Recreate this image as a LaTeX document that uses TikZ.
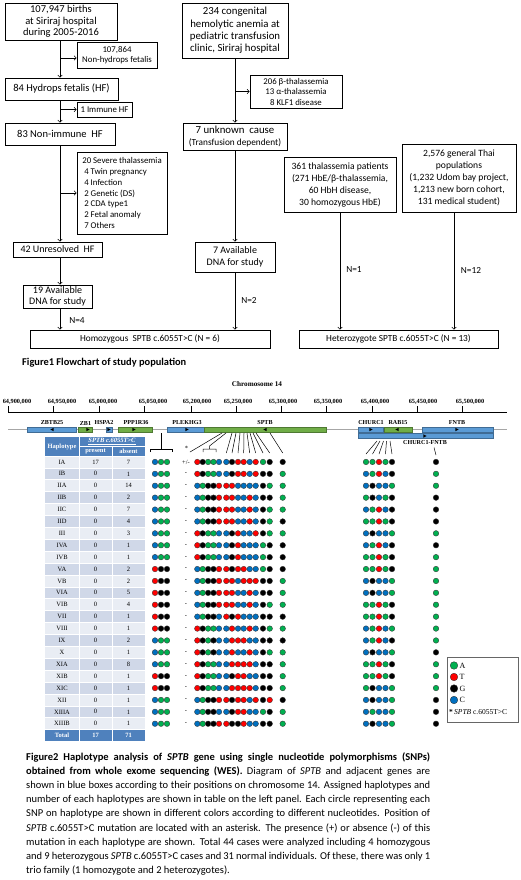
\documentclass[tikz,border=0pt]{standalone}
\usepackage{fontspec}
\setmainfont{Carlito}
\newfontfamily\tms{Liberation Serif}
\usetikzlibrary{arrows.meta,positioning}

\definecolor{snpA}{RGB}{0,176,80}
\definecolor{snpT}{RGB}{255,0,0}
\definecolor{snpG}{RGB}{0,0,0}
\definecolor{snpC}{RGB}{0,112,192}
\definecolor{geneblue}{RGB}{91,155,213}
\definecolor{genegreen}{RGB}{112,173,71}
\definecolor{tabhead}{RGB}{79,129,189}
\definecolor{banddark}{RGB}{208,216,232}
\definecolor{bandlight}{RGB}{233,237,244}

\newcommand\plusminus{+/-}
\newcommand\geneL[2]{\fill (#1-1.6,#2) -- (#1+1.6,#2-1.7) -- (#1+1.6,#2+1.7) -- cycle;}
\newcommand\geneR[2]{\fill (#1+1.6,#2) -- (#1-1.6,#2-1.7) -- (#1-1.6,#2+1.7) -- cycle;}
% x position of every SNP circle in a row
\def\snpx{{155,161,167,197.3,202.7,208.1,213.5,219,226.3,232,238,243.7,249.7,255.7,263,269.7,282.7,366,372.5,379,385.5,392,436}}

\tikzset{
  box/.style={draw, line width=0.6pt, align=center, inner sep=1pt, font=\fontsize{10.5}{11.5}\selectfont},
  smallbox/.style={box, font=\fontsize{8.8}{10}\selectfont},
  arr/.style={-{Straight Barb[length=2.2pt,width=4.5pt]}, line width=0.6pt},
  nlabel/.style={font=\fontsize{9.3}{10}\selectfont, inner sep=0pt},
  snp/.style={circle, draw=black!80, line width=0.35pt, inner sep=0pt, minimum size=5.6pt, fill=snp#1},
  genebox/.style={draw=#1!70!black, fill=#1, line width=0.3pt},
  glabel/.style={font=\tms\bfseries\fontsize{6.1}{7}\selectfont, inner sep=0pt},
  tcell/.style={font=\tms\fontsize{6.5}{7}\selectfont, inner sep=0pt},
  thead/.style={font=\tms\bfseries\fontsize{6.5}{7}\selectfont, text=white, inner sep=0pt},
  capline/.style={anchor=base west, inner sep=0pt, font=\fontsize{10.5}{12}\selectfont},
}

\begin{document}
\begin{tikzpicture}[x=1pt,y=-1pt]
\useasboundingbox (0,0) rectangle (520,880);
\fill[white] (0,0) rectangle (520,880);

% Figure 1: flowchart
\coordinate (spL) at (60,0);
\node[box, minimum width=112pt, minimum height=37pt] (births) at (61,21.5) {107,947 births\\at Siriraj hospital\\during 2005-2016};
\node[smallbox, minimum width=80pt, minimum height=26pt] (nonhf) at (117,55) {107,864\\Non-hydrops fetalis};
\node[box, minimum width=113pt, minimum height=22pt] (hf) at (61.5,89) {84 Hydrops fetalis (HF)};
\node[smallbox, minimum width=55pt, minimum height=15pt] (immune) at (104.5,109.5) {1 Immune HF};
\node[box, minimum width=110pt, minimum height=22pt] (nonimm) at (60,134) {83 Non-immune\ \ HF};
\node[smallbox, minimum width=90pt, minimum height=82pt, align=left, font=\fontsize{8.8}{10.8}\selectfont] (causes) at (122,193) {20 Severe thalassemia\\\ 4 Twin pregnancy\\\ 4 Infection\\\ 2 Genetic (DS)\\\ 2 CDA type1\\\ 2 Fetal anomaly\\\ 7 Others};
\node[box, minimum width=89pt, minimum height=15pt, font=\fontsize{10}{11}\selectfont] (unres) at (57.5,249.5) {42 Unresolved\ \ HF};
\node[box, minimum width=69pt, minimum height=23pt, font=\fontsize{10}{11.5}\selectfont] (avail) at (57.5,296.5) {19 Available\\DNA for study};
\node[box, minimum width=240pt, minimum height=18pt, font=\fontsize{9.3}{10}\selectfont] (homo) at (150,339) {Homozygous\ \ SPTB c.6055T>C (N = 6)};

\node[box, minimum width=106pt, minimum height=55pt, font=\fontsize{10.8}{12.3}\selectfont] (cha) at (235,30.5) {234 congenital\\hemolytic anemia at\\pediatric transfusion\\clinic, Siriraj hospital};
\node[smallbox, minimum width=92pt, minimum height=33pt, font=\fontsize{8.8}{10.5}\selectfont] (excl) at (296,91.5) {206 β-thalassemia\\13 α-thalassemia\\8 KLF1 disease};
\node[box, minimum width=104pt, minimum height=27pt, font=\fontsize{10.8}{11.5}\selectfont] (unknown) at (235,136.5) {7 unknown\ \ cause\\{\fontsize{9.3}{10}\selectfont(Transfusion dependent)}};
\node[box, minimum width=80pt, minimum height=30pt, font=\fontsize{10}{11.5}\selectfont] (availb) at (235,257) {7 Available\\DNA for study};

\node[box, minimum width=112pt, minimum height=55pt, font=\fontsize{9.6}{12}\selectfont] (thal) at (340,184.5) {361 thalassemia patients\\(271 HbE/β-thalassemia,\\60 HbH disease,\\30 homozygous HbE)};
\node[box, minimum width=114pt, minimum height=68pt, font=\fontsize{9.6}{12}\selectfont] (thai) at (459,178) {2,576 general Thai\\populations\\(1,232 Udom bay project,\\1,213 new born cohort,\\131 medical student)};
\node[box, minimum width=199pt, minimum height=18pt, font=\fontsize{9.3}{10}\selectfont] (hetero) at (398.5,339) {Heterozygote SPTB c.6055T>C (N = 13)};

\draw[arr] (births.south -| spL) -- (hf.north -| spL);
\draw[arr] ([yshift=-3pt]nonhf.west -| spL) -- ([yshift=-3pt]nonhf.west);
\draw[arr] (hf.south -| spL) -- (nonimm.north -| spL);
\draw[arr] (immune.west -| spL) -- (immune.west);
\draw[arr] (nonimm.south -| spL) -- (unres.north -| spL);
\draw[arr] (causes.west -| spL) -- (causes.west);
\draw[arr] (unres.south -| spL) -- (avail.north -| spL);
\draw[arr] (avail.south -| spL) -- (homo.north -| spL);
\draw[arr] (cha) -- (unknown);
\draw[arr] (excl.west -| cha) -- (excl.west);
\draw[arr] (unknown) -- (availb);
\draw[arr] (availb) -- (availb |- homo.north);
\draw[arr] (thal.south) -- (thal.south |- hetero.north);
\draw[arr] ([xshift=-5pt]thai.south) -- ([xshift=-5pt]thai.south |- hetero.north);
\node[nlabel] (n4) at (77,321) {N=4};
\node[nlabel] (n2) at (249,300) {N=2};
\node[nlabel] (n1) at (354,270) {N=1};
\node[nlabel] (n12) at (471,270) {N=12};
\node[anchor=west, inner sep=0pt, font=\bfseries\fontsize{10.4}{11}\selectfont] (fig1) at (22,363) {Figure1 Flowchart of study population};

% Figure 2: chromosome axis
\node[font=\tms\bfseries\fontsize{7.2}{8}\selectfont, inner sep=0pt] (chr) at (257,384) {Chromosome 14};
\draw[line width=0.6pt] (8,412) -- (507,412);
\foreach \tx/\lx/\lab in {8/17/{64,900,000}, 53/62/{64,950,000}, 99/103/{65,000,000}, 144/153/{65,050,000}, 191/197/{65,200,000}, 236/238/{65,250,000}, 281/283/{65,300,000}, 326/328/{65,350,000}, 372/375/{65,400,000}, 417/423/{65,450,000}, 462/470/{65,500,000}}{
  \draw[line width=0.6pt] (\tx,406) -- (\tx,412);
  \node[glabel, font=\tms\bfseries\fontsize{6.3}{7}\selectfont] at (\lx,402) {\lab};
}

% gene track
\draw[black!35, line width=1.2pt] (8,429.5) -- (507,429.5);
\foreach \xa/\xb/\col in {27/76/geneblue, 78/92/genegreen, 106/112/geneblue, 118/152/genegreen, 167/204/geneblue, 204/326/genegreen, 358/383/geneblue, 384/412/genegreen, 422/493/geneblue}
  \draw[genebox=\col] (\xa,427) rectangle (\xb,432);
\draw[genebox=geneblue] (358,433.5) rectangle (493,438.5);
\geneL{52}{429.5} \geneR{88}{429.5} \geneR{109}{429.5} \geneR{134}{429.5} \geneR{187}{429.5}
\geneL{265}{429.5} \geneR{371}{429.5} \geneL{397}{429.5} \geneR{457}{429.5} \geneR{425}{436}
\foreach \gx/\gn in {52/ZBTB25, 85.5/ZB1, 104/HSPA2, 136/PPP1R36, 187/PLEKHG3, 265/SPTB, 371/CHURC1, 398/RAB15, 457/FNTB}
  \node[glabel] at (\gx,423) {\gn};
\node[glabel] at (425,443) {CHURC1-FNTB};

% SNP pointers
\draw[line width=0.5pt] (161.5,433) -- (161.5,449) (150,452) -- (150,449) -- (172,449) -- (172,452);
\node[tcell] (star) at (186.5,448.5) {*};
\draw[line width=0.5pt] (190,452) -- (222,433);
\draw[line width=0.5pt] (203,452) -- (203,449) -- (216,449) -- (216,452) (209.5,449) -- (209.5,446) -- (226,433);
\foreach \bx/\tx in {226.3/232, 232/236, 238/240, 243.7/244, 249.7/247, 255.7/250, 263/253, 269.7/256, 282.7/270}
  \draw[line width=0.5pt] (\bx,453) -- (\tx,433);
\foreach \bx/\tx in {366/377, 372.5/380, 379/383.5, 385.5/386.5, 392/390}
  \draw[line width=0.5pt] (\bx,454) -- (\tx,441);
\draw[line width=0.5pt] (434,447.5) -- (436,455);

% table header
\fill[tabhead] (45,437) rectangle (145,456);
\node[thead] at (62,446.5) {Haplotype};
\node[thead] at (112,441.5) {\textit{\underline{SPTB c.6055T>C}}};
\node[thead] at (95.5,451) {present};
\node[thead] at (128.5,451) {absent};

% haplotype rows
\foreach \hn/\np/\na/\sg/\snps [count=\r from 0] in {
  IA/17/7/\plusminus/{C,A,A,T,G,A,A,C,C,G,T,T,C,T,A,G,G,A,A,T,A,G,G},
  IB/0/1/-/{C,A,A,T,G,A,A,C,C,G,T,T,C,T,G,G,A,C,A,T,C,G,A},
  IIA/0/14/-/{C,A,A,C,A,G,G,T,T,T,C,C,C,C,G,A,A,C,G,C,C,A,A},
  IIB/0/2/-/{C,A,A,C,A,G,G,T,T,T,C,C,T,C,G,G,A,A,G,C,A,G,G},
  IIC/0/7/-/{C,A,A,C,A,G,G,T,T,T,C,C,T,C,G,A,A,C,A,T,C,G,G},
  IID/0/4/-/{C,A,A,C,A,G,G,T,T,T,C,C,T,C,G,A,G,A,A,T,A,G,G},
  III/0/3/-/{C,A,A,T,G,A,A,C,C,G,T,C,C,T,G,A,A,C,G,C,C,A,A},
  IVA/0/1/-/{C,A,A,T,G,A,A,C,C,G,T,C,C,C,A,G,G,C,A,T,C,G,G},
  IVB/0/1/-/{C,A,A,T,G,A,A,C,C,G,T,C,C,C,A,G,G,A,A,T,A,G,A},
  VA/0/2/-/{T,G,G,C,A,G,G,T,T,G,T,T,C,C,A,G,G,A,A,T,A,G,A},
  VB/0/2/-/{T,G,G,C,A,G,G,T,T,T,C,T,T,T,G,G,A,C,G,C,C,A,A},
  VIA/0/5/-/{T,G,G,C,A,G,G,T,T,T,C,C,T,C,G,G,A,C,G,C,C,A,A},
  VIB/0/4/-/{T,G,G,C,A,G,G,T,T,T,C,C,T,C,G,A,A,A,A,T,A,G,A},
  VII/0/1/-/{T,G,G,C,A,G,G,C,T,G,T,C,C,C,G,G,G,A,A,T,A,G,A},
  VIII/0/1/-/{T,G,G,T,G,A,A,C,C,T,C,C,T,C,G,A,A,C,A,T,C,A,A},
  IX/0/2/-/{C,A,A,T,G,A,G,C,C,T,T,T,C,C,G,G,G,C,A,T,C,G,A},
  X/0/1/-/{C,A,A,T,G,A,G,C,C,T,C,C,T,C,G,A,A,C,G,C,C,A,G},
  XIA/0/8/-/{C,A,A,T,G,A,A,C,C,T,T,T,T,C,G,G,A,A,A,T,A,G,A},
  XIB/0/1/-/{T,G,G,T,G,A,A,C,C,G,T,T,C,C,G,G,A,A,A,T,A,G,A},
  XIC/0/1/-/{T,G,G,T,G,A,A,C,C,T,T,T,T,C,G,G,A,A,G,C,C,A,A},
  XII/0/1/-/{C,A,A,C,A,G,G,T,T,G,T,T,C,T,G,T,G,C,G,C,C,A,G},
  XIIIA/0/1/-/{C,A,A,C,A,G,G,C,C,G,T,T,C,C,A,G,A,C,A,C,C,A,G},
  XIIIB/0/1/-/{C,A,A,C,A,G,G,T,T,G,G,T,C,C,G,G,A,C,G,C,C,A,G}}{
  \pgfmathsetmacro\yt{456+11.9*\r}
  \pgfmathsetmacro\yc{\yt+5.95}
  \ifodd\r \def\band{banddark}\else\def\band{bandlight}\fi
  \fill[\band] (45,\yt) rectangle (145,\yt+11.9);
  \node[tcell] at (62,\yc) {\hn};
  \node[tcell] at (95.5,\yc) {\np};
  \node[tcell] at (128.5,\yc) {\na};
  \node[tcell] at (186,\yc) {\sg};
  \foreach \c [count=\i from 0] in \snps {
    \pgfmathsetmacro\xx{\snpx[\i]}
    \node[snp=\c] at (\xx,\yc) {};
  }
}
\fill[tabhead] (45,729.7) rectangle (145,741);
\node[thead] at (62,735.3) {Total};
\node[thead] at (95.5,735.3) {17};
\node[thead] at (128.5,735.3) {71};
\draw[white, line width=0.8pt] (79,437) -- (79,741) (112,446) -- (112,741) (79,446) -- (145,446);
\foreach \r in {0,...,23}
  \draw[white, line width=0.8pt] (45,456+11.9*\r) -- (145,456+11.9*\r);

% legend
\draw[black!60, line width=0.8pt] (447,657) rectangle (518,722);
\foreach \c/\ly in {A/665.5, T/677, G/688.5, C/700}{
  \node[snp=\c, minimum size=7.6pt] at (454,\ly) {};
  \node[tcell, anchor=west, font=\tms\fontsize{8}{9}\selectfont] at (459.5,\ly) {\c};
}
\node[tcell, anchor=west, font=\tms\fontsize{7.5}{8}\selectfont] (legstar) at (449,712) {\textbf{*}\,\textit{SPTB} c.6055T>C};

% Figure 2 caption
\node[capline] (cap1) at (26,760) {\makebox[404pt][s]{\bfseries Figure2 Haplotype analysis of \textit{SPTB} gene using single nucleotide polymorphisms (SNPs)}};
\node[capline] (cap2) at (26,774.2) {\makebox[404pt][s]{\bfseries obtained from whole exome sequencing (WES). \mdseries Diagram of \textit{SPTB} and adjacent genes are}};
\node[capline] (cap3) at (26,788.4) {\makebox[404pt][s]{shown in blue boxes according to their positions on chromosome 14. Assigned haplotypes and}};
\node[capline] (cap4) at (26,802.6) {\makebox[404pt][s]{number of each haplotypes are shown in table on the left panel. Each circle representing each}};
\node[capline] (cap5) at (26,816.8) {\makebox[404pt][s]{SNP on haplotype are shown in different colors according to different nucleotides. Position of}};
\node[capline] (cap6) at (26,831) {\makebox[404pt][s]{\textit{SPTB} c.6055T>C mutation are located with an asterisk. The presence (+) or absence (-) of this}};
\node[capline] (cap7) at (26,845.2) {\makebox[404pt][s]{mutation in each haplotype are shown. Total 44 cases were analyzed including 4 homozygous}};
\node[capline] (cap8) at (26,859.4) {\makebox[404pt][s]{and 9 heterozygous \textit{SPTB} c.6055T>C cases and 31 normal individuals. Of these, there was only 1}};
\node[capline] (cap9) at (26,873.6) {trio family (1 homozygote and 2 heterozygotes).};
\end{tikzpicture}
\end{document}
